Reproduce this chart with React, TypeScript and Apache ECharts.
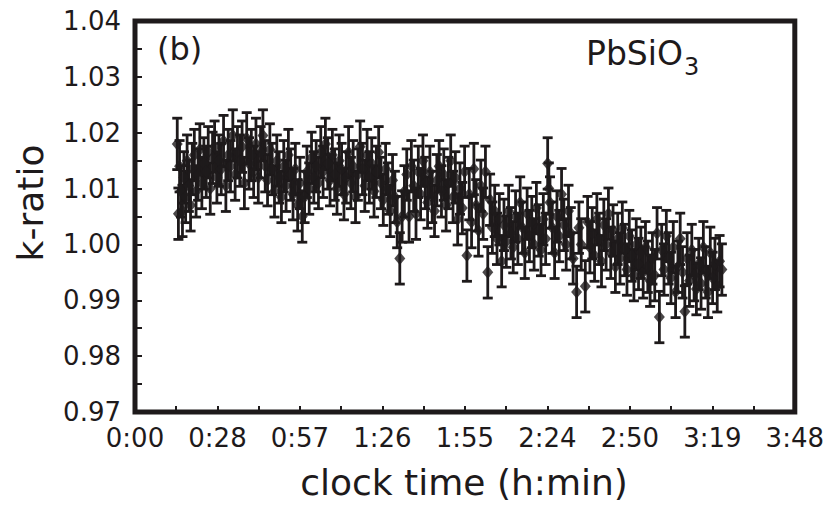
import React, { useEffect, useRef } from "react";
import * as echarts from "echarts";

// clock time in minutes after 0:00
const times: number[] = [
  14.6, 15.0, 15.4, 15.9, 16.4, 16.9, 17.5, 18.0, 18.6, 19.2, 19.8, 20.5, 21.1, 21.8, 22.4, 23.1, 23.8, 24.6, 25.3, 26.0,
  26.8, 27.5, 28.3, 29.0, 29.8, 30.6, 31.4, 32.2, 33.0, 33.8, 34.6, 35.4, 36.2, 37.0, 37.8, 38.6, 39.4, 40.2, 41.0, 41.8,
  42.6, 43.4, 44.2, 45.0, 45.8, 46.6, 47.4, 48.2, 49.0, 49.8, 50.6, 51.4, 52.2, 53.0, 53.8, 54.6, 55.4, 56.2, 57.0, 57.8,
  58.6, 59.4, 60.2, 61.0, 61.8, 62.6, 63.4, 64.2, 65.0, 65.8, 66.6, 67.4, 68.2, 69.0, 69.8, 70.6, 71.4, 72.2, 73.0, 73.8,
  74.6, 75.4, 76.2, 77.0, 77.8, 78.6, 79.4, 80.2, 81.0, 81.8, 82.6, 83.4, 84.2, 85.0, 85.8, 86.6, 87.4, 88.2, 89.0, 89.8,
  90.6, 91.5, 92.3, 93.1, 93.9, 94.7, 95.5, 96.3, 97.1, 97.9, 98.7, 99.5, 100.3, 101.1, 101.9, 102.7, 103.5, 104.3, 105.1, 105.9,
  106.7, 107.5, 108.3, 109.1, 109.9, 110.7, 111.5, 112.3, 113.1, 113.9, 114.7, 115.5, 116.3, 117.1, 117.9, 118.7, 119.5, 120.3, 121.1, 121.9,
  122.7, 123.5, 124.3, 125.1, 125.9, 126.7, 127.5, 128.3, 129.1, 129.9, 130.7, 131.5, 132.3, 133.1, 133.9, 134.7, 135.5, 136.3, 137.1, 137.9,
  138.7, 139.5, 140.3, 141.1, 141.9, 142.6, 143.0, 143.4, 144.2, 145.0, 145.8, 146.6, 147.4, 148.2, 149.0, 149.8, 150.6, 151.4, 152.6, 153.4,
  154.2, 155.6, 156.4, 157.2, 158.0, 158.8, 159.6, 160.4, 161.2, 162.0, 162.8, 163.6, 164.4, 165.2, 166.0, 166.8, 167.6, 168.4, 169.2, 170.0,
  170.8, 171.6, 172.4, 173.2, 174.0, 174.8, 175.6, 176.4, 177.2, 178.0, 178.8, 179.6, 180.4, 181.2, 182.0, 182.8, 183.6, 184.4, 185.2, 186.0,
  186.8, 187.6, 188.4, 189.2, 190.0, 190.8, 191.6, 192.4, 193.2, 194.0, 194.8, 195.6, 196.4, 197.2, 198.0, 198.8, 199.6, 200.4, 201.2, 202.0,
  202.8,
];

const kRatio: number[] = [
  1.018, 1.0055, 1.014, 1.0095, 1.006, 1.012, 1.0085, 1.015, 1.0105, 1.007, 1.0135, 1.016, 1.0095, 1.0125, 1.017, 1.011, 1.0145, 1.013, 1.0165, 1.01,
  1.0155, 1.0175, 1.012, 1.015, 1.0135, 1.0185, 1.0105, 1.016, 1.014, 1.0195, 1.0125, 1.0165, 1.015, 1.0175, 1.011, 1.019, 1.0145, 1.016, 1.013, 1.018,
  1.012, 1.0165, 1.0195, 1.014, 1.0115, 1.017, 1.0135, 1.0095, 1.015, 1.012, 1.0085, 1.014, 1.0105, 1.016, 1.0125, 1.009, 1.0135, 1.007, 1.011, 1.005,
  1.0085, 1.013, 1.01, 1.0155, 1.012, 1.014, 1.011, 1.0165, 1.013, 1.018, 1.0145, 1.0115, 1.016, 1.0125, 1.01, 1.015, 1.0135, 1.009, 1.012, 1.0165,
  1.011, 1.014, 1.0085, 1.0125, 1.0175, 1.0135, 1.0105, 1.016, 1.012, 1.0145, 1.0095, 1.013, 1.0165, 1.011, 1.008, 1.0135, 1.01, 1.006, 1.0115, 1.0085,
  1.004, 0.9975, 1.005, 1.0095, 1.0125, 1.005, 1.014, 1.0105, 1.0055, 1.013, 1.009, 1.015, 1.011, 1.0075, 1.013, 1.0085, 1.006, 1.0115, 1.014, 1.0095,
  1.0125, 1.007, 1.011, 1.015, 1.0085, 1.012, 1.0045, 1.01, 1.0065, 1.013, 0.998, 1.009, 1.004, 1.0135, 1.007, 1.0025, 1.0105, 1.0055, 1.013, 0.995,
  1.008, 1.003, 1.006, 1.001, 1.0045, 0.997, 1.0035, 1.0005, 1.006, 1.002, 0.9995, 1.005, 1.001, 1.0075, 1.003, 0.9985, 1.0055, 1.0015, 1.004, 1.0,
  1.0065, 1.0025, 0.999, 1.0045, 1.001, 1.0145, 1.01, 1.0075, 1.003, 0.9985, 1.005, 1.0015, 1.009, 1.0035, 1.0, 1.006, 1.002, 0.9975, 0.9915, 1.003,
  1.0, 0.9925, 1.004, 0.9995, 1.002, 0.998, 1.0045, 1.001, 0.997, 1.0035, 1.0, 1.0055, 0.9985, 1.0025, 0.996, 1.001, 0.9975, 1.003, 0.999, 0.9955,
  1.0015, 0.998, 0.9945, 1.0, 0.9965, 0.9985, 0.995, 0.9995, 0.996, 0.9935, 0.9975, 0.9945, 1.002, 0.987, 0.999, 0.9955, 1.0015, 0.9975, 0.994, 0.9995,
  0.9915, 0.996, 1.001, 0.995, 0.988, 0.9975, 0.9935, 0.999, 0.9945, 0.992, 0.9965, 0.993, 0.9995, 0.995, 0.9915, 0.9985, 0.994, 0.9965, 0.9925, 0.997,
  0.9955,
];

// half length of each error bar (k-ratio units)
const errHalf = 0.0046;

const xTickLabels: string[] = ["0:00", "0:28", "0:57", "1:26", "1:55", "2:24", "2:50", "3:19", "3:48"];
const yTickValues: number[] = [0.97, 0.98, 0.99, 1.0, 1.01, 1.02, 1.03, 1.04];

const INK = "#1e1a1b";
const FONT = "DejaVu Sans";

export default function App() {
  const ref = useRef<HTMLDivElement>(null);

  useEffect(() => {
    document.body.style.margin = "0";
    if (!ref.current) return;
    const chart = echarts.init(ref.current, undefined, { renderer: "svg" });

    const pts = times.map((t, i) => [t, kRatio[i]]);
    const xStep = 228 / (xTickLabels.length - 1);

    chart.setOption({
      animation: false,
      backgroundColor: "#ffffff",
      grid: {
        left: 135,
        right: 32,
        top: 21,
        bottom: 98,
        show: true,
        borderWidth: 5,
        borderColor: INK,
        backgroundColor: "transparent",
      },
      xAxis: {
        type: "value",
        min: 0,
        max: 228,
        interval: xStep,
        axisLine: { show: false },
        splitLine: { show: false },
        axisTick: { show: true, inside: true, length: 6, lineStyle: { color: INK, width: 2 } },
        minorTick: { show: true, splitNumber: 2, length: 6, lineStyle: { color: INK, width: 2 } },
        axisLabel: {
          margin: 13,
          fontFamily: FONT,
          fontSize: 26,
          color: INK,
          formatter: (v: number) => xTickLabels[Math.round(v / xStep)] ?? "",
        },
      },
      yAxis: {
        type: "value",
        min: yTickValues[0],
        max: yTickValues[yTickValues.length - 1],
        interval: 0.01,
        axisLine: { show: false },
        splitLine: { show: false },
        axisTick: { show: true, inside: true, length: 7, lineStyle: { color: INK, width: 2 } },
        minorTick: { show: true, splitNumber: 2, length: 7, lineStyle: { color: INK, width: 2 } },
        axisLabel: {
          margin: 14,
          fontFamily: FONT,
          fontSize: 26,
          color: INK,
          formatter: (v: number) => v.toFixed(2),
        },
      },
      graphic: [
        {
          type: "text",
          left: 157,
          top: 33,
          style: { text: "(b)", fontFamily: FONT, fontSize: 32, fill: INK },
        },
        {
          type: "text",
          x: 586,
          y: 30,
          style: {
            text: "{a|PbSiO}{s|3}",
            fill: INK,
            rich: {
              a: { fontFamily: FONT, fontSize: 33, fill: INK, verticalAlign: "bottom", lineHeight: 40 },
              s: { fontFamily: FONT, fontSize: 24, fill: INK, verticalAlign: "bottom", lineHeight: 40, padding: [0, 0, -9, 1] },
            },
          },
        },
        {
          type: "text",
          x: 30,
          y: 203,
          rotation: Math.PI / 2,
          style: {
            text: "k-ratio",
            fontFamily: FONT,
            fontSize: 36,
            fill: INK,
            align: "center",
            verticalAlign: "middle",
          },
        },
        {
          type: "text",
          x: 464,
          y: 482,
          style: {
            text: "clock time (h:min)",
            fontFamily: FONT,
            fontSize: 36,
            fill: INK,
            align: "center",
            verticalAlign: "middle",
          },
        },
      ],
      series: [
        {
          type: "custom",
          data: pts,
          z: 2,
          renderItem: (params: any, api: any) => {
            const t = api.value(0);
            const v = api.value(1);
            const hi = api.coord([t, v + errHalf]);
            const lo = api.coord([t, v - errHalf]);
            const cap = 5;
            const style = { stroke: INK, lineWidth: 2.8 };
            return {
              type: "group",
              children: [
                { type: "line", shape: { x1: hi[0], y1: hi[1], x2: lo[0], y2: lo[1] }, style },
                { type: "line", shape: { x1: hi[0] - cap, y1: hi[1], x2: hi[0] + cap, y2: hi[1] }, style },
                { type: "line", shape: { x1: lo[0] - cap, y1: lo[1], x2: lo[0] + cap, y2: lo[1] }, style },
              ],
            };
          },
        },
        {
          type: "scatter",
          data: pts,
          z: 3,
          symbol: "diamond",
          symbolSize: [11, 13],
          itemStyle: { color: INK },
        },
      ],
    });

    return () => chart.dispose();
  }, []);

  return <div ref={ref} style={{ width: 827, height: 510 }} />;
}
